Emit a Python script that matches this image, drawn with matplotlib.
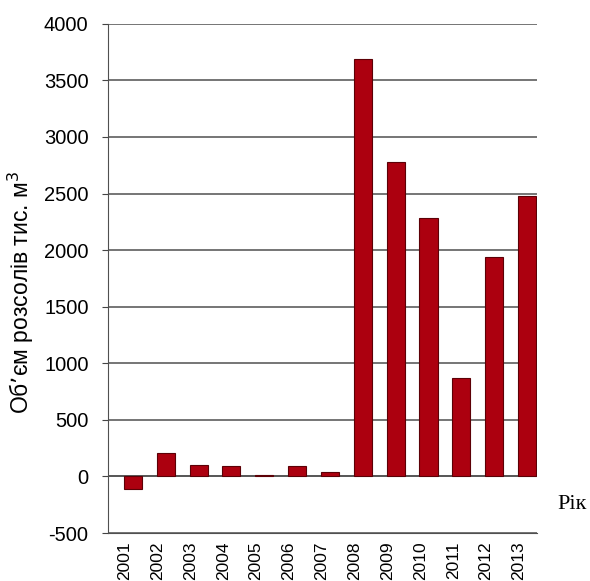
import matplotlib
matplotlib.use("Agg")
import matplotlib.pyplot as plt
import numpy as np

years = ["2001", "2002", "2003", "2004", "2005", "2006", "2007",
         "2008", "2009", "2010", "2011", "2012", "2013"]
volumes = [-110, 210, 100, 90, 10, 95, 35, 3690, 2780, 2280, 870, 1940, 2480]
y_ticks = [-500, 0, 500, 1000, 1500, 2000, 2500, 3000, 3500, 4000]

plt.rcParams['font.family'] = ['Liberation Sans', 'DejaVu Sans']

fig = plt.figure(figsize=(5.9, 5.81), dpi=100)
ax = fig.add_axes([0.183, 0.0826, 0.727, 0.8764])

x = np.arange(len(years))
ax.bar(x, volumes, width=0.55, color='#ac000f', edgecolor='#5c0006',
       linewidth=0.8, zorder=3)

ax.set_ylim(-500, 4000)
ax.set_xlim(-0.76, 12.3)
ax.set_yticks(y_ticks)
ax.set_yticklabels([str(v) for v in y_ticks], fontsize=14.5)
# category labels sit a little left of the bars
ax.set_xticks(x - 0.25)
ax.set_xticklabels(years, rotation=90, fontsize=12.5)
ax.tick_params(axis='x', length=0, pad=6)
ax.tick_params(axis='y', length=4, width=0.8, color='#444444', pad=10)

ax.grid(axis='y', color='#505050', linewidth=1.1, zorder=1)
ax.axhline(0, color='#505050', linewidth=1.1, zorder=2)
for s in ['top', 'right']:
    ax.spines[s].set_visible(False)
ax.spines['left'].set_color('#505050')
ax.spines['bottom'].set_color('#505050')

ax.set_ylabel('Об’єм розсолів тис. м$^3$', fontsize=16.5)
ax.yaxis.set_label_coords(-0.168, 0.473)
fig.text(0.945, 0.131, 'Рік', fontsize=16, ha='left', va='center',
         family=['Liberation Serif', 'DejaVu Serif'])

fig.savefig('out.png', dpi=100)
